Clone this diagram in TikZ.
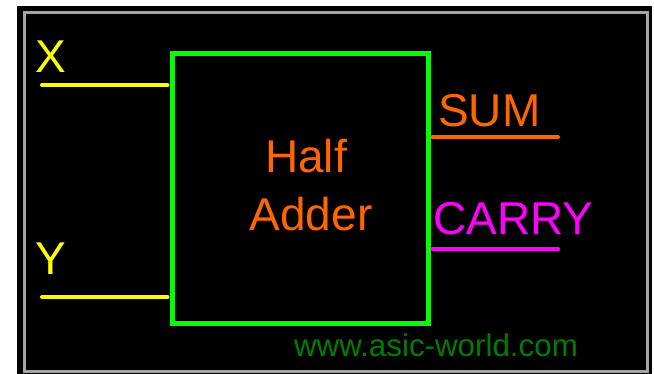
\documentclass[tikz,border=0pt]{standalone}
\usepackage{fontspec}
\setmainfont{Liberation Sans}
\usepackage{tikz}

\definecolor{pinyellow}{RGB}{255,255,0}
\definecolor{boxgreen}{RGB}{0,255,0}
\definecolor{sumorange}{RGB}{255,102,0}
\definecolor{carrymagenta}{RGB}{255,0,255}
\definecolor{webgreen}{RGB}{0,125,0}
\definecolor{framegray}{RGB}{165,165,165}

\begin{document}
\begin{tikzpicture}[x=0.75pt,y=0.75pt,yscale=-1,xscale=1,
  wire/.style={line width=3pt, line cap=round},
  biglabel/.style={inner sep=0pt, font=\fontsize{34.5}{41}\selectfont}]
\useasboundingbox (0,0) rectangle (654,374);

%Shape: Background
\fill[white] (0,0) rectangle (654,374);
\fill[black] (17,6) rectangle (652,374);
%Shape: Frame
\draw[framegray, line width=2.25pt] (24,13) rectangle (647,371);

%Shape: Half adder block
\node[draw=boxgreen, line width=3.75pt, inner sep=0pt,
      minimum width=192pt, minimum height=202.5pt] (ha) at (300,189) {};

%Straight Lines: inputs
\coordinate (xin) at (42,85);
\coordinate (yin) at (42,297);
\draw[wire, pinyellow, shorten >=1.5pt] (xin) -- (xin -| ha.west);
\draw[wire, pinyellow, shorten >=1.5pt] (yin) -- (yin -| ha.west);
%Straight Lines: outputs
\coordinate (sumout) at (558,137);
\coordinate (carryout) at (558,249);
\draw[wire, sumorange, shorten <=1.5pt] (sumout -| ha.east) -- (sumout);
\draw[wire, carrymagenta, shorten <=1.5pt] (carryout -| ha.east) -- (carryout);

% Text Node
\node[biglabel, text=pinyellow, anchor=base west] (xlbl) at (35,73) {X};
% Text Node
\node[biglabel, text=pinyellow, anchor=base west] (ylbl) at (35,275) {Y};
% Text Node
\node[biglabel, text=sumorange, anchor=base west] (sumlbl) at (438,127) {SUM};
% Text Node
\node[biglabel, text=carrymagenta, anchor=base west] (carrylbl) at (433,235) {CARRY};
% Text Node
\node[biglabel, text=sumorange, anchor=base] (half) at (306,173) {Half};
% Text Node
\node[biglabel, text=sumorange, anchor=base] (adder) at (311,231) {Adder};
% Text Node
\node[inner sep=0pt, text=webgreen, font=\fontsize{23.5}{28}\selectfont, anchor=base] (web) at (436,357) {www.asic-world.com};

\end{tikzpicture}
\end{document}
